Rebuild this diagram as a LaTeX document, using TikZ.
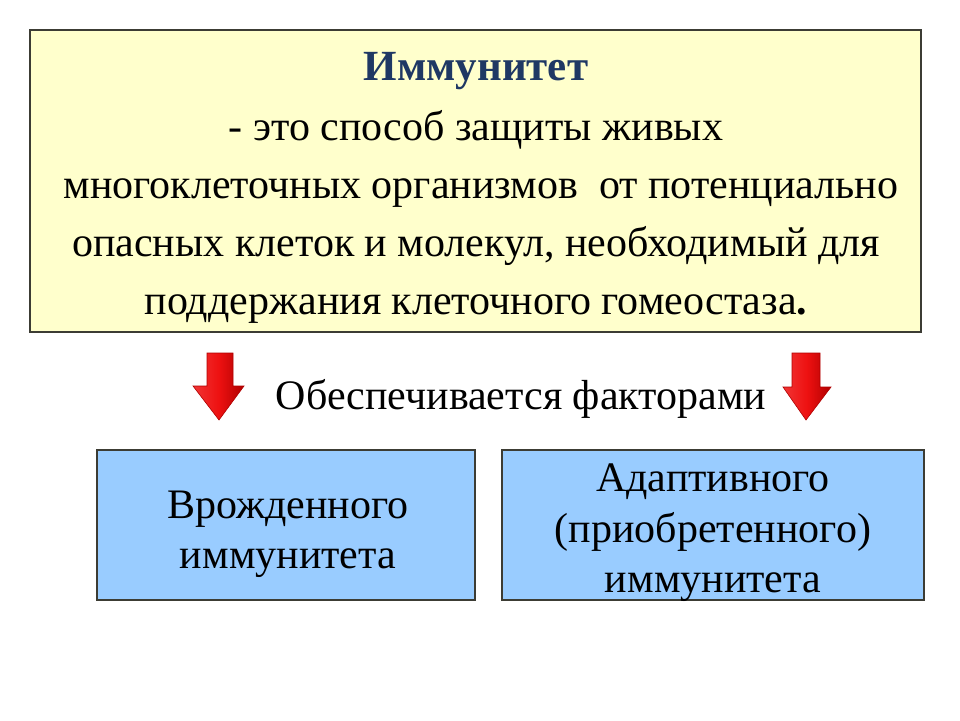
\documentclass[tikz,border=0pt]{standalone}
\usepackage{fontspec}
\setmainfont{Liberation Serif}
\definecolor{boxyellow}{HTML}{FFFFCC}
\definecolor{boxblue}{HTML}{99CCFF}
\definecolor{titleblue}{HTML}{1F3864}
\definecolor{edgegray}{HTML}{3C3C34}
\definecolor{arrowred}{HTML}{EE1111}
\definecolor{arrowdark}{HTML}{B00000}
\begin{document}
\begin{tikzpicture}[x=1pt,y=-1pt,
  panel/.style={draw=edgegray,line width=1.2pt},
  txt/.style={anchor=base,inner sep=0pt,font=\fontsize{42}{50}\selectfont},
  redarrow/.style={left color=arrowred!85!white,right color=arrowdark,middle color=arrowred,draw=arrowdark,line width=0.6pt,line join=miter}]
\useasboundingbox (0,0) rectangle (960,720);
% top definition panel
\draw[panel,fill=boxyellow] (30,30) rectangle (921,332);
\node[txt,text=titleblue,font=\fontsize{43}{50}\selectfont\bfseries] (title) at (476,80) {Иммунитет};
\node[txt] (l1) at (476,140) {- это способ защиты живых};
\node[txt] (l2) at (481,198) {многоклеточных организмов\ \ от потенциально};
\node[txt] (l3) at (476,256) {опасных клеток и молекул, необходимый для};
\node[txt] (l4) at (476,314) {поддержания клеточного гомеостаза\textbf{.}};
% arrows
\shadedraw[redarrow] (207,353) -- (233,353) -- (233,386) -- (244,386) -- (219,420) -- (193,386) -- (207,386) -- cycle;
\shadedraw[redarrow] (792,353) -- (820,353) -- (820,387) -- (831,387) -- (806,420) -- (783,387) -- (792,387) -- cycle;
\node[txt] (prov) at (521,409) {Обеспечивается факторами};
% bottom boxes
\draw[panel,fill=boxblue] (97,450) rectangle (475,600);
\node[txt] (b1a) at (288,518) {Врожденного};
\node[txt] (b1b) at (288,568) {иммунитета};
\draw[panel,fill=boxblue] (502,450) rectangle (924,600);
\node[txt] (b2a) at (713,491) {Адаптивного};
\node[txt] (b2b) at (713,542) {(приобретенного)};
\node[txt] (b2c) at (713,592) {иммунитета};
\end{tikzpicture}
\end{document}
